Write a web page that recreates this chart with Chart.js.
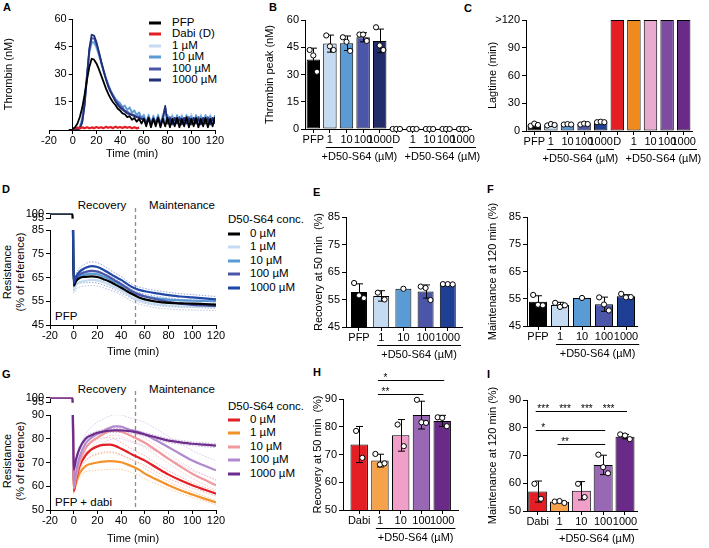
<!DOCTYPE html>
<html><head><meta charset="utf-8">
<script src="https://cdn.jsdelivr.net/npm/chart.js@4.4.0/dist/chart.umd.min.js"></script>
<style>
html,body{margin:0;padding:0;background:#fff;}
body{width:709px;height:548px;position:relative;overflow:hidden;font-family:'Liberation Sans',Arial,sans-serif;color:#000;}
.box{position:absolute;}
.t{position:absolute;white-space:nowrap;line-height:1;font-size:11.5px;transform:translateY(-50%);}
.c{transform:translate(-50%,-50%);}
.L{position:absolute;font-weight:bold;font-size:11px;line-height:1;}
.rot{position:absolute;white-space:nowrap;line-height:1;font-size:11px;transform:translate(-50%,-50%) rotate(-90deg);}
.sw{position:absolute;height:3px;width:12px;transform:translateY(-50%);}
</style></head><body>

<div class="L" style="left:3px;top:2px">A</div>
<div class="L" style="left:269px;top:2px">B</div>
<div class="L" style="left:464px;top:3px">C</div>
<div class="L" style="left:2px;top:184px">D</div>
<div class="L" style="left:313px;top:187px">E</div>
<div class="L" style="left:487px;top:184px">F</div>
<div class="L" style="left:2px;top:369px">G</div>
<div class="L" style="left:313px;top:367px">H</div>
<div class="L" style="left:487px;top:369px">I</div>

<div class="rot" style="left:7px;top:272px">Resistance</div>
<div class="rot" style="left:20px;top:272px">(% of reference)</div>
<div class="rot" style="left:7px;top:461px">Resistance</div>
<div class="rot" style="left:20px;top:461px">(% of reference)</div>

<!-- legend A -->
<div class="sw" style="left:149px;top:23px;background:#000"></div><div class="t" style="left:172px;top:23px">PFP</div>
<div class="sw" style="left:149px;top:34px;background:#e31e24"></div><div class="t" style="left:172px;top:34px">Dabi (D)</div>
<div class="sw" style="left:149px;top:46px;background:#c5dbf1"></div><div class="t" style="left:172px;top:46px">1 µM</div>
<div class="sw" style="left:149px;top:57px;background:#5b9bd5"></div><div class="t" style="left:172px;top:57px">10 µM</div>
<div class="sw" style="left:149px;top:68.5px;background:#4b56a8"></div><div class="t" style="left:172px;top:68.5px">100 µM</div>
<div class="sw" style="left:149px;top:80px;background:#1f2f78"></div><div class="t" style="left:172px;top:80px">1000 µM</div>

<!-- D texts -->
<div class="t c" style="left:102px;top:206px">Recovery</div>
<div class="t c" style="left:182px;top:206px">Maintenance</div>
<div class="t" style="left:55px;top:317px">PFP</div>
<div class="t" style="left:228px;top:220px">D50-S64 conc.</div>
<div class="sw" style="left:228px;top:233.5px;background:#000"></div><div class="t" style="left:250px;top:233.5px">0 µM</div>
<div class="sw" style="left:228px;top:247px;background:#c5dbf1"></div><div class="t" style="left:250px;top:247px">1 µM</div>
<div class="sw" style="left:228px;top:260.5px;background:#5b9bd5"></div><div class="t" style="left:250px;top:260.5px">10 µM</div>
<div class="sw" style="left:228px;top:274px;background:#4b56a8"></div><div class="t" style="left:250px;top:274px">100 µM</div>
<div class="sw" style="left:228px;top:287.5px;background:#1f47a8"></div><div class="t" style="left:250px;top:287.5px">1000 µM</div>

<!-- G texts -->
<div class="t c" style="left:102px;top:390px">Recovery</div>
<div class="t c" style="left:182px;top:390px">Maintenance</div>
<div class="t" style="left:55px;top:503px">PFP + dabi</div>
<div class="t" style="left:228px;top:406.5px">D50-S64 conc.</div>
<div class="sw" style="left:228px;top:419.5px;background:#e31e24"></div><div class="t" style="left:250px;top:419.5px">0 µM</div>
<div class="sw" style="left:228px;top:433px;background:#f4922a"></div><div class="t" style="left:250px;top:433px">1 µM</div>
<div class="sw" style="left:228px;top:446.5px;background:#f09a9e"></div><div class="t" style="left:250px;top:446.5px">10 µM</div>
<div class="sw" style="left:228px;top:460px;background:#b08ad0"></div><div class="t" style="left:250px;top:460px">100 µM</div>
<div class="sw" style="left:228px;top:473.5px;background:#6c2d8c"></div><div class="t" style="left:250px;top:473.5px">1000 µM</div>

<script>
// ================= DATA =================
// Panel A: thrombin generation curves
const timeA = [0,2,4,6,8,10,12,14,16,18,
  20,22,24,26,28,30,32,34,36,38,
  40,42,44,46,48,50,52,54,56,58,
  60,62,64,66,68,70,72,74,76,78,
  80,82,84,86,88,90,92,94,96,98,
  100,102,104,106,108,110,112,114,116,118,
  120];
const thrPFP = [0.5,1.5,3.5,7,12,19,27,34,38.5,38,
  36,33,29.5,26,22.5,19.5,17,15,13.5,11.5,
  10.5,9,8.5,7,7.5,5.5,6.5,4.5,6,3.5,
  6,2,6.5,1.5,6,2,6.5,1.5,6,2,
  6.5,1.5,6,2,6.5,1.5,6,2,7,1.5,
  6,2,6.5,1.5,6,2,6.5,1.5,6,2,
  7];
const thrDabi = [0.3,1,1.3,0.8,1.4,1,1.5,0.9,1.4,1,
  1.6,1.1,1.5,1,1.7,1.2,1.6,1,1.8,1.2,
  1.6,1.1,1.7,1.2,1.6,1,1.5,0.9,1.3];
const thr1 = [0,0,0.5,2,7,17,30,41,46.5,47,
  44,40,35.5,31,27,24,21,18.5,16.5,15,
  14,12,13.5,10.5,12.5,9,10.5,7.5,9.5,6.5,
  8.5,4,8.5,3.5,8,4,8.5,3.5,9,4,
  8,3.5,8.5,4,8,3.5,8.5,4,8,3.5,
  9,4,8,3.5,8.5,4,8,3.5,8.5,4,
  8];
const thr10 = [0,0,0.3,1.5,6,16,30,42,47.5,47.5,
  45,41,36.5,32,28,24.5,21.5,19,17,15.5,
  14.5,12.5,13,11,12,9.5,10.5,8,9.5,6.5,
  8,3.5,8,3,7.5,3.5,8,3,7.5,3.5,
  8,3,7.5,3.5,8,3,7.5,3.5,8,3,
  7.5,3.5,8,3,7.5,3.5,8,3,7.5,3.5,
  8];
const thr100 = [0,0,0.2,1,4.5,14,29,43,49.5,49.5,
  46.5,42,37,32.5,28,24,21,18.5,16,14.5,
  13,12,10.5,10,9,8.5,8,7,7.5,6,
  6.5,4,7,3.5,6.5,4,7,3.5,6.5,12,
  4,7,3.5,6.5,4,7,3.5,6.5,4,7,
  3.5,6.5,4,7,3.5,6.5,4,7,3.5,6.5,
  4];
const thr1000 = [0,0,0.2,1,4,13,28,44,51.5,51,
  47.5,42.5,37,32,27.5,23.5,20.5,18,15.5,13.5,
  12,11,10,9,8.5,8,7.5,7,6.5,6,
  6,3.5,6.5,3,6,3.5,6.5,3,6,13,
  3.5,6,3,6.5,3.5,6,3,6.5,3.5,6,
  3,6.5,3.5,6,3,6.5,3.5,6,3,6.5,
  3.5];
const ticksTime = [-20,0,20,40,60,80,100,120];
const tickLabelsTime = ['-20','0','20','40','60','80','100','120'];
const ticksThrombin = [0,15,30,45,60];
const tickLabelsThrombin = ['','15','30','45','60'];

// Panels B, C
const catsBC = ['PFP','1','10','100','1000','D','1','10','100','1000'];
const peakMean = [38.2,47,47.2,50.5,48.5,0,0,0,0,0];
const peakSD = [6.3,4.7,4,2.5,6.5,0,0,0,0,0];
const peakPts = [[43.5,40.5,31.5],[51.5,45.5,43.5],[50.5,48,43],[52,52,48.5],[56,46,43.5],
  [0,0,0],[0,0,0],[0,0,0],[0,0,0],[0,0,0]];
const ticksPeak = [0,15,30,45,60];
const tickLabelsPeak = ['0','15','30','45','60'];
const lagMean = [6.5,6.5,7,7.5,9.5,120,120,120,120,120];
const lagSD = [1,0.8,0.5,0.6,0.4,0,0,0,0,0];
const lagPts = [[5.5,8,6.5],[6,7.5,6.5],[7,7.5,7],[7,8,7.5],[9.5,10,9.5],[],[],[],[],[]];
const ticksLag = [0,30,60,90,120];
const tickLabelsLag = ['0','30','60','90','>120'];

// Panels D, G: resistance curves
const timeR = [-20,-1,0,2,5,10,15,20,25,30,35,40,45,50,55,60,70,80,90,100,110,120];
const resD0    = [100,100,61.5,63.5,64.8,65.3,65.5,65.2,64.3,63.3,62,60.7,59.2,57.8,56.6,55.8,54.8,54.3,54.1,54,53.8,53.6];
const resD1    = [100,100,60,62,63,63.6,64,63.8,63,62,60.8,59.5,58,56.4,55.4,54.7,53.7,53.2,52.9,52.8,52.7,52.6];
const resD10   = [100,100,62,64,65.5,66.3,66.6,66.3,65.4,64.3,63,61.7,60.3,58.9,57.9,57.1,56.2,55.7,55.4,55.2,55.1,55];
const resD100  = [100,100,62,64.5,66.3,67.3,67.8,67.5,66.5,65.2,63.7,62.2,60.6,58.9,57.8,57,55.8,54.8,54,53.5,53.2,53];
const resD1000 = [100,100,62.5,65.3,67.5,69.1,69.8,69.4,68.3,66.8,65.3,64,62.3,60.8,59.8,59.2,58.3,57.6,57,56.6,56.2,55.8];
const sdD0     = [0,0,2,2,2.2,2.5,2.6,2.6,2.5,2.4,2.3,2.2,2,1.9,1.8,1.7,1.6,1.6,1.6,1.6,1.6,1.6];
const sdD1     = [0,0,1.5,1.8,2,2.2,2.4,2.4,2.3,2.2,2,1.9,1.8,1.7,1.6,1.5,1.5,1.5,1.5,1.5,1.5,1.5];
const sdD1000  = [0,0,1,1.3,1.5,1.7,1.8,1.8,1.7,1.6,1.5,1.4,1.3,1.2,1.2,1.2,1.2,1.2,1.2,1.2,1.2,1.2];
const resG0    = [100,100,58,63,68.5,73,75.5,76.8,77.4,77.5,77,75.8,74.5,73.2,72,70.8,67.8,64.9,62.5,60.4,58.6,56.9];
const resG1    = [100,100,58,61.5,65.5,68.5,69.5,70,70.4,70.6,70.5,70.1,69.2,68.2,67,65.3,62.8,60.4,58.3,56.5,54.8,53.2];
const resG10   = [100,100,59,64,70,76,78.8,80.5,82,83.2,83.5,83,82,80.8,79.6,78.3,75,71.5,68.3,65.3,62.8,60.4];
const resG100  = [100,100,60,66,72.5,78,80.5,82,83.3,84.5,85.2,85.1,84.2,83.4,82.8,81.9,79.2,76.4,73.6,70.8,68.7,66.7];
const resG1000 = [100,100,67,71.5,76,80,81.5,82.5,83,83.4,83.5,83.5,83.3,83,82.5,81.8,80.5,79.2,78.5,77.9,77.5,77.1];
const sdG0     = [0,0,1,1.5,2,2.5,2.8,3,3,3,2.8,2.6,2.4,2.2,2,2,1.8,1.6,1.4,1.2,1,1];
const sdG1     = [0,0,1,1.5,2,2.5,3,3.3,3.5,3.5,3.3,3,2.8,2.6,2.4,2.2,1.8,1.5,1.3,1.2,1,1];
const sdG10    = [0,0,1,1.2,1.5,2,2,2,2,2,2,2,2,2,2,2,2,2,2,2,2,2];
const sdG100   = [0,0,1,2,3,4,4.5,5,5,5,5,5,5,5,5,5,4.8,4.5,4.3,4.2,4,4];
const sdG1000  = [0,0,0.8,0.8,0.8,0.8,0.8,0.8,0.8,0.8,0.8,0.8,0.8,0.8,0.8,0.8,0.8,0.8,0.8,0.8,0.8,0.8];
const boundaryTime = 52;
const ticksResTop = [95,100];
const tickLabelsResTop = ['95','100'];
const ticksResD = [45,55,65,75,85];
const tickLabelsResD = ['45','55','65','75','85'];
const ticksResG = [50,60,70,80,90];
const tickLabelsResG = ['50','60','70','80','90'];

// Panels E, F, H, I
const catsEF = ['PFP','1','10','100','1000'];
const catsHI = ['Dabi','1','10','100','1000'];
const recMean = [57.7,56.3,58.9,57.9,60.5];
const recSD = [3,1.9,0,2.4,0.2];
const recPts = [[61,56.5,55.5],[57.5,55],[58.9],[59.7,59.2,54.8],[60.6,60.6,60.5]];
const mainMean = [53.9,52.7,55.3,53,55.9];
const mainSD = [2.2,1,0,2.6,0.6];
const mainPts = [[56.4,52.8,52.6],[53.5,52,52.6],[55.3],[55.5,52.9,50.7],[56.8,55.5,55.6]];
const ticksEF = [45,55,65,75,85];
const tickLabelsEF = ['45','55','65','75','85'];
const recHMean = [73.6,67.8,76.9,84.2,82.1];
const recHSD = [6.5,2.3,5.7,5,2];
const recHPts = [[78.5,68.8],[70.2,66.4,66.8],[80.8,73],[89.7,81.6,81.4],[83.4,83.2,80.2]];
const mainIMean = [57,53.3,57.3,66.6,76.8];
const mainISD = [3.8,0.4,3.3,3.5,0.8];
const mainIPts = [[59.8,54.4],[53.4,53.6,52.9],[59.8,55],[70.3,65.8,63.6],[77.6,77.2,75.9]];
const ticksHI = [50,60,70,80,90];
const tickLabelsHI = ['50','60','70','80','90'];
const sigH = [{from:1,to:4,y:97,text:'*'},{from:1,to:3,y:91.8,text:'**'}];
const sigI = [{from:0,to:4,y:85.9,text:'***'},{from:1,to:4,y:85.9,text:'***'},{from:2,to:4,y:85.9,text:'***'},
  {from:3,to:4,y:85.9,text:'***'},{from:0,to:3,y:79.1,text:'*'},{from:1,to:3,y:74.1,text:'**'}];
const groupText = '+D50-S64 (µM)';

// ================= STYLE / HELPERS =================
const FONT = "'Liberation Sans', Arial, sans-serif";
Chart.defaults.font.family = FONT;
Chart.defaults.font.size = 11;
Chart.defaults.color = '#000';

function box(area, o) {
  const pl = o.pl ?? 0, pt = o.pt ?? 10, pr = o.pr ?? 12, pb = o.pb ?? 0;
  const left = area.l - o.wy - pl, top = area.t - pt;
  const w = area.r + pr - left, h = area.b + o.hx + pb - top;
  const d = document.createElement('div'); d.className = 'box';
  d.style.left = left + 'px'; d.style.top = top + 'px';
  d.style.width = w + 'px'; d.style.height = h + 'px';
  const c = document.createElement('canvas'); d.appendChild(c); document.body.appendChild(d);
  return { canvas: c, padding: { left: pl, top: pt, right: pr, bottom: pb } };
}
function axis(o, horiz) {
  return {
    type: 'linear', min: o.min, max: o.max, bounds: 'data', offset: false, beginAtZero: false,
    display: o.display !== false,
    position: o.position || (horiz ? 'bottom' : 'left'),
    afterBuildTicks: s => { s.ticks = o.ticks.map(v => ({ value: v })); },
    afterFit: s => { if (horiz) s.height = o.hx; else if (o.wy != null) s.width = o.wy; },
    ticks: { autoSkip: false, maxRotation: 0, minRotation: 0, padding: horiz ? 0 : 2,
      font: { size: 11 }, color: '#000',
      callback: v => { const i = o.ticks.indexOf(v); return i >= 0 ? o.labels[i] : ''; } },
    grid: { offset: false, drawOnChartArea: false, drawTicks: true, tickLength: 4, color: '#000', lineWidth: 1 },
    border: { display: true, color: '#000', width: 1 },
    title: o.title ? { display: true, text: o.title, padding: 0, font: { size: 11 }, color: '#000' } : { display: false }
  };
}
function baseOpts(padding, scales) {
  return { responsive: true, maintainAspectRatio: false, animation: false, devicePixelRatio: 1, events: [],
    layout: { padding }, plugins: { legend: { display: false }, tooltip: { enabled: false } }, scales };
}
function line(xs, ys, color, w, order, extra) {
  return Object.assign({ data: ys.map((v, i) => ({ x: xs[i], y: v })), borderColor: color, backgroundColor: color,
    borderWidth: w, pointRadius: 0, order, fill: false, tension: 0, borderJoinStyle: 'round' }, extra || {});
}
const spread = { 1: 0, 2: 0.3, 3: 0.22, 4: 0.2 };

function extras(cfg) {
  return {
    id: 'extras',
    afterDatasetDraw(chart, args) {
      if (args.index !== 1 || !cfg.errs) return;
      const xs = chart.scales.x, ys = chart.scales.y, ctx = chart.ctx;
      ctx.save(); ctx.strokeStyle = '#000'; ctx.lineWidth = 1;
      cfg.means.forEach((m, i) => {
        const e = cfg.errs[i]; if (!e) return;
        const x = Math.round(xs.getPixelForValue(i)) + 0.5;
        const t = ys.getPixelForValue(m + e), b = ys.getPixelForValue(Math.max(m - e, ys.min));
        ctx.beginPath(); ctx.moveTo(x, t); ctx.lineTo(x, b);
        ctx.moveTo(x - 3.5, t); ctx.lineTo(x + 3.5, t);
        if (m - e > ys.min) { ctx.moveTo(x - 3.5, b); ctx.lineTo(x + 3.5, b); }
        ctx.stroke();
      });
      ctx.restore();
    },
    afterDraw(chart) {
      const xs = chart.scales.x, ys = chart.scales.y, ctx = chart.ctx, bottom = chart.chartArea.bottom;
      ctx.save(); ctx.fillStyle = '#000'; ctx.strokeStyle = '#000'; ctx.lineWidth = 1;
      ctx.font = '11px ' + FONT;
      (cfg.groups || []).forEach(g => {
        const x0 = xs.getPixelForValue(g.from) - ctx.measureText(cfg.cats[g.from]).width / 2 - 1;
        const x1 = xs.getPixelForValue(g.to) + ctx.measureText(cfg.cats[g.to]).width / 2 + 1;
        const ly = Math.round(bottom + 18) + 0.5;
        ctx.beginPath(); ctx.moveTo(x0, ly); ctx.lineTo(x1, ly); ctx.stroke();
        ctx.textAlign = 'center'; ctx.textBaseline = 'middle';
        ctx.fillText(g.text, (x0 + x1) / 2, bottom + 28);
      });
      ctx.font = '10px ' + FONT;
      (cfg.sig || []).forEach(s => {
        const x0 = xs.getPixelForValue(s.from) - 2, x1 = xs.getPixelForValue(s.to) + 2;
        const y = Math.round(ys.getPixelForValue(s.y)) + 0.5;
        ctx.beginPath(); ctx.moveTo(x0, y); ctx.lineTo(x1, y); ctx.stroke();
        ctx.textAlign = 'center'; ctx.textBaseline = 'alphabetic';
        ctx.fillText(s.text, x0 + 7.5, y + 0.5);
      });
      ctx.restore();
    }
  };
}

function barChart(o) {
  const b = box(o.area, { wy: o.wy, hx: 36, pr: o.pr ?? 14, pt: o.pt ?? 30 });
  const pts = [];
  o.pts.forEach((arr, i) => {
    const m = arr.length;
    arr.forEach((v, j) => pts.push({ x: i + (m > 1 ? (j - (m - 1) / 2) * spread[m] : 0), y: v }));
  });
  const xt = o.cats.map((_, i) => i);
  new Chart(b.canvas, {
    type: 'bar',
    data: { datasets: [
      { type: 'scatter', data: pts, pointRadius: 2.6, pointBackgroundColor: '#fff', pointBorderColor: '#000',
        pointBorderWidth: 1, clip: false, order: 0 },
      { type: 'bar', data: o.means.map((v, i) => ({ x: i, y: v })), backgroundColor: o.colors, borderColor: '#000',
        borderWidth: 1, borderSkipped: false, barPercentage: o.bp, categoryPercentage: 1, order: 1 }
    ] },
    options: baseOpts(b.padding, {
      x: axis({ min: o.xmin, max: o.xmax, ticks: xt, labels: o.cats, hx: 36 }, true),
      y: axis({ min: o.ticks[0], max: o.ticks[o.ticks.length - 1], ticks: o.ticks, labels: o.labels, wy: o.wy, title: o.title }, false)
    }),
    plugins: [extras({ cats: o.cats, means: o.means, errs: o.errs, groups: o.groups, sig: o.sig })]
  });
}

function vline(value, extra) {
  return { id: 'vline', beforeDatasetsDraw(chart) {
    const ctx = chart.ctx, x = Math.round(chart.scales.x.getPixelForValue(value)) + 0.5, a = chart.chartArea;
    ctx.save(); ctx.strokeStyle = '#8c8c8c'; ctx.lineWidth = 1.3; ctx.setLineDash([4, 3]);
    ctx.beginPath(); ctx.moveTo(x, a.top - extra); ctx.lineTo(x, a.bottom); ctx.stroke(); ctx.restore();
  } };
}

function resistancePanel(p) {
  const X = { l: 50, r: 216 };
  const sb = box({ l: X.l, t: p.stripT, r: X.r, b: p.stripB }, { wy: 50, hx: 0, pt: 7, pr: 12, pb: 7 });
  new Chart(sb.canvas, {
    type: 'line',
    data: { datasets: p.series.map(s => line(timeR, s.v, s.c, 2.2, s.so, { cubicInterpolationMode: 'monotone' })) },
    options: baseOpts(sb.padding, {
      x: axis({ min: -20, max: 120, ticks: ticksTime, labels: tickLabelsTime, hx: 0, display: false }, true),
      y: axis({ min: 95, max: 100, ticks: ticksResTop, labels: tickLabelsResTop, wy: 50 }, false)
    })
  });
  const mb = box({ l: X.l, t: p.mainT, r: X.r, b: p.mainB }, { wy: 50, hx: p.hx, pt: 26, pr: 12 });
  const ds = [];
  p.series.forEach(s => ds.push(line(timeR, s.v, s.c, 2.2, s.mo, { cubicInterpolationMode: 'monotone' })));
  p.bands.forEach(bd => {
    const up = bd.v.map((v, i) => v + bd.sd[i]), lo = bd.v.map((v, i) => v - bd.sd[i]);
    ds.push(line(timeR, up, bd.c, 0.8, 20, { cubicInterpolationMode: 'monotone', borderDash: [1.5, 1.5] }));
    ds.push(line(timeR, lo, bd.c, 0.8, 20, { cubicInterpolationMode: 'monotone', borderDash: [1.5, 1.5] }));
  });
  new Chart(mb.canvas, {
    type: 'line',
    data: { datasets: ds },
    options: baseOpts(mb.padding, {
      x: axis({ min: -20, max: 120, ticks: ticksTime, labels: tickLabelsTime, hx: p.hx, title: 'Time (min)' }, true),
      y: axis({ min: p.ticks[0], max: p.ticks[p.ticks.length - 1], ticks: p.ticks, labels: p.labels, wy: 50 }, false)
    }),
    plugins: [vline(boundaryTime, p.vExtra)]
  });
}

// ================= PANEL A =================
(function () {
  const b = box({ l: 49, t: 19, r: 215, b: 130 }, { wy: 0, hx: 31, pl: 20, pt: 10, pr: 12 });
  new Chart(b.canvas, {
    type: 'line',
    data: { datasets: [
      line(timeA, thrPFP, '#000', 1.8, 0),
      line(timeA, thrDabi, '#e31e24', 2.2, 1),
      line(timeA, thr1000, '#1f2f78', 1.8, 2),
      line(timeA, thr100, '#4b56a8', 1.8, 3),
      line(timeA, thr10, '#5b9bd5', 1.8, 4),
      line(timeA, thr1, '#c5dbf1', 1.8, 5)
    ] },
    options: baseOpts(b.padding, {
      x: axis({ min: -20, max: 120, ticks: ticksTime, labels: tickLabelsTime, hx: 31, title: 'Time (min)' }, true),
      y: axis({ min: 0, max: 60, ticks: ticksThrombin, labels: tickLabelsThrombin, wy: 0, display: false }, false)
    })
  });
  // y axis crossing the time axis at t = 0 (same vertical scale, overlaid)
  const x0 = 49 + (0 - (-20)) * (215 - 49) / 140;
  const wy = x0 - 2;
  const b2 = box({ l: x0, t: 19, r: 215, b: 130 }, { wy: wy, hx: 0, pt: 10, pr: 12, pb: 8 });
  new Chart(b2.canvas, {
    type: 'line',
    data: { datasets: [] },
    options: baseOpts(b2.padding, {
      x: axis({ min: -20, max: 120, ticks: ticksTime, labels: tickLabelsTime, hx: 0, display: false }, true),
      y: axis({ min: 0, max: 60, ticks: ticksThrombin, labels: tickLabelsThrombin, wy: wy, title: 'Thrombin (nM)' }, false)
    })
  });
})();

// ================= PANELS B, C =================
barChart({ area: { l: 305, t: 20, r: 471, b: 129 }, wy: 42, pr: 14, pt: 20, xmin: -0.5, xmax: 9.5, bp: 0.81,
  cats: catsBC, means: peakMean, errs: peakSD, pts: peakPts,
  colors: ['#000', '#c5dbf1', '#5b9bd5', '#4b56a8', '#232c6b', '#e31e24', '#f08a1c', '#e9aad0', '#7d4b9f', '#6a2b88'],
  ticks: ticksPeak, labels: tickLabelsPeak, title: 'Thrombin peak (nM)',
  groups: [{ from: 1, to: 4, text: groupText }, { from: 6, to: 9, text: groupText }] });
barChart({ area: { l: 526, t: 20, r: 692, b: 131 }, wy: 40, pr: 16, pt: 20, xmin: -0.5, xmax: 9.5, bp: 0.81,
  cats: catsBC, means: lagMean, errs: lagSD, pts: lagPts,
  colors: ['#000', '#c5dbf1', '#5b9bd5', '#4b56a8', '#1e3f94', '#e31e24', '#f08a1c', '#e9aad0', '#7d4b9f', '#6a2b88'],
  ticks: ticksLag, labels: tickLabelsLag, title: 'Lagtime (min)',
  groups: [{ from: 1, to: 4, text: groupText }, { from: 6, to: 9, text: groupText }] });

// ================= PANELS D, G =================
resistancePanel({ stripT: 212, stripB: 220, mainT: 230, mainB: 325, hx: 34, vExtra: 22,
  ticks: ticksResD, labels: tickLabelsResD,
  series: [
    { v: resD1000, c: '#1f47a8', mo: 0, so: 4 },
    { v: resD0, c: '#000', mo: 1, so: 0 },
    { v: resD100, c: '#4b56a8', mo: 2, so: 3 },
    { v: resD10, c: '#5b9bd5', mo: 3, so: 2 },
    { v: resD1, c: '#c5dbf1', mo: 4, so: 1 }
  ],
  bands: [
    { v: resD0, sd: sdD0, c: '#8d97b5' },
    { v: resD1, sd: sdD1, c: '#9fb6d8' },
    { v: resD1000, sd: sdD1000, c: '#7d93c9' }
  ] });
resistancePanel({ stripT: 396, stripB: 404, mainT: 415, mainB: 510, hx: 36, vExtra: 24,
  ticks: ticksResG, labels: tickLabelsResG,
  series: [
    { v: resG1000, c: '#6c2d8c', mo: 0, so: 0 },
    { v: resG100, c: '#b08ad0', mo: 1, so: 1 },
    { v: resG10, c: '#f09a9e', mo: 2, so: 2 },
    { v: resG0, c: '#e31e24', mo: 3, so: 3 },
    { v: resG1, c: '#f4922a', mo: 4, so: 4 }
  ],
  bands: [
    { v: resG0, sd: sdG0, c: '#f3a0a0' },
    { v: resG1, sd: sdG1, c: '#f8c08a' },
    { v: resG10, sd: sdG10, c: '#f6c0c4' },
    { v: resG100, sd: sdG100, c: '#d2b8e6' },
    { v: resG1000, sd: sdG1000, c: '#b395cc' }
  ] });

// ================= PANELS E, F, H, I =================
const colEF = ['#000', '#c5dbf1', '#5b9bd5', '#4b56a8', '#1e3f94'];
const colHI = ['#e31e24', '#f5a24a', '#f0a0c8', '#9968b4', '#6a2b88'];
barChart({ area: { l: 346, t: 217, r: 462, b: 327 }, wy: 34, xmin: -0.585, xmax: 4.64, bp: 0.72,
  cats: catsEF, means: recMean, errs: recSD, pts: recPts, colors: colEF,
  ticks: ticksEF, labels: tickLabelsEF, title: 'Recovery at 50 min  (%)',
  groups: [{ from: 1, to: 4, text: groupText }] });
barChart({ area: { l: 527, t: 217, r: 637, b: 326 }, wy: 41, xmin: -0.5, xmax: 4.5, bp: 0.82,
  cats: catsEF, means: mainMean, errs: mainSD, pts: mainPts, colors: colEF,
  ticks: ticksEF, labels: tickLabelsEF, title: 'Maintenance at 120 min (%)',
  groups: [{ from: 1, to: 4, text: groupText }] });
barChart({ area: { l: 343, t: 399, r: 458, b: 510 }, wy: 32, xmin: -0.78, xmax: 4.76, bp: 0.84,
  cats: catsHI, means: recHMean, errs: recHSD, pts: recHPts, colors: colHI,
  ticks: ticksHI, labels: tickLabelsHI, title: 'Recovery at 50 min  (%)',
  groups: [{ from: 1, to: 4, text: groupText }], sig: sigH });
barChart({ area: { l: 527, t: 400, r: 637, b: 511 }, wy: 41, xmin: -0.49, xmax: 4.55, bp: 0.87,
  cats: catsHI, means: mainIMean, errs: mainISD, pts: mainIPts, colors: colHI,
  ticks: ticksHI, labels: tickLabelsHI, title: 'Maintenance at 120 min (%)',
  groups: [{ from: 1, to: 4, text: groupText }], sig: sigI });
</script>
</body></html>
